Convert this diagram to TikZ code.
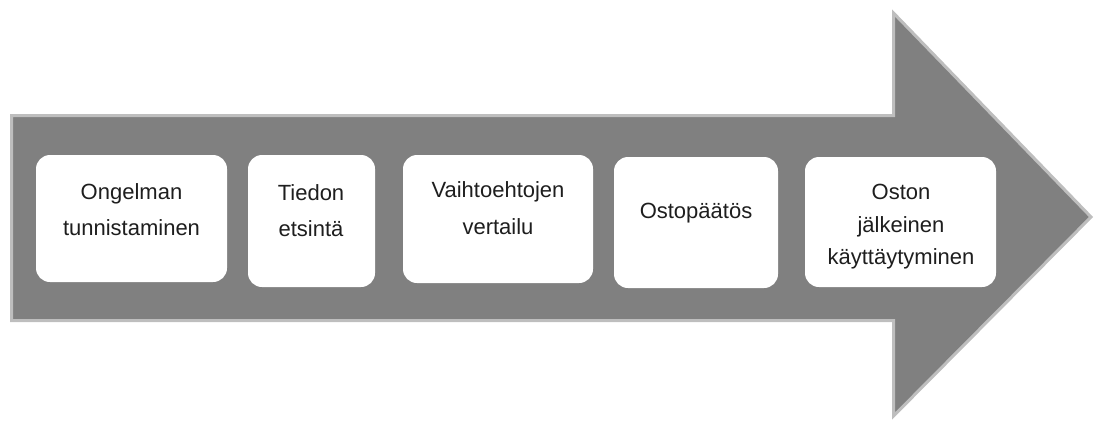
\documentclass[tikz,border=0pt]{standalone}
\usepackage{fontspec}
\setmainfont{Liberation Sans}
\definecolor{arrowfill}{RGB}{128,128,128}
\definecolor{arrowedge}{RGB}{190,190,190}
\definecolor{txt}{RGB}{30,30,30}
\begin{document}
\begin{tikzpicture}[x=1pt,y=-1pt,
  stepbox/.style={fill=white,draw=none,rounded corners=14pt,inner sep=0pt},
  lbl/.style={anchor=base,inner sep=0pt,text=txt,font=\fontsize{22}{26}\selectfont}]
\useasboundingbox (0,0) rectangle (1094,424);
% arrow
\draw[fill=arrowfill,draw=arrowedge,line width=3pt,line join=miter]
  (11.5,115.5) -- (893.5,115.5) -- (893.5,13) -- (1091,217) -- (893.5,416)
  -- (893.5,320.5) -- (11.5,320.5) -- cycle;
% boxes
\node[stepbox,minimum width=191pt,minimum height=127pt] (b1) at (131.5,218.5) {};
\node[stepbox,minimum width=127pt,minimum height=132pt] (b2) at (311.5,221) {};
\node[stepbox,minimum width=190pt,minimum height=128pt] (b3) at (498,219) {};
\node[stepbox,minimum width=164pt,minimum height=131pt] (b4) at (696,222.5) {};
\node[stepbox,minimum width=191pt,minimum height=130pt] (b5) at (900.5,222) {};
% labels
\node[lbl] (t1a) at (131.5,199) {Ongelman};
\node[lbl] (t1b) at (131.5,235) {tunnistaminen};
\node[lbl] (t2a) at (311,200) {Tiedon};
\node[lbl] (t2b) at (311,236) {etsintä};
\node[lbl] (t3a) at (498,197) {Vaihtoehtojen};
\node[lbl] (t3b) at (498,234) {vertailu};
\node[lbl] (t4a) at (696,218) {Ostopäätös};
\node[lbl] (t5a) at (901,199) {Oston};
\node[lbl] (t5b) at (901,232) {jälkeinen};
\node[lbl] (t5c) at (901,264) {käyttäytyminen};
\end{tikzpicture}
\end{document}
